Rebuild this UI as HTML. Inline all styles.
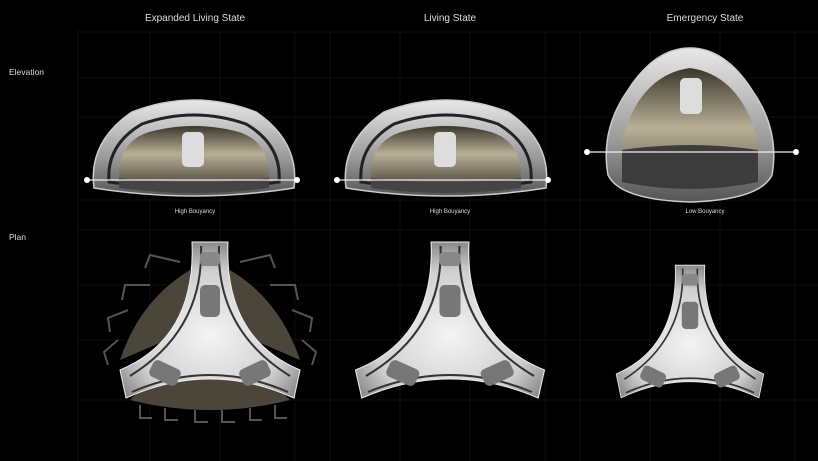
<!DOCTYPE html>
<html><head><meta charset="utf-8"><style>
html,body{margin:0;padding:0;background:#000;}
svg{display:block}
text{font-family:"Liberation Sans",sans-serif;fill:#ddd}
</style></head><body>
<svg width="818" height="461" viewBox="0 0 818 461" xmlns="http://www.w3.org/2000/svg">
<defs>
<linearGradient id="sh" x1="0" y1="0" x2="0" y2="1"><stop offset="0" stop-color="#e8e8e8"/><stop offset="0.6" stop-color="#9a9a9a"/><stop offset="1" stop-color="#555"/></linearGradient>
<linearGradient id="bg" x1="0" y1="0" x2="0" y2="1"><stop offset="0" stop-color="#3a362c"/><stop offset="0.5" stop-color="#b8b096"/><stop offset="1" stop-color="#5a5548"/></linearGradient>
<radialGradient id="tp" cx="0.5" cy="0.6" r="0.6"><stop offset="0" stop-color="#f4f4f4"/><stop offset="0.7" stop-color="#cfcfcf"/><stop offset="1" stop-color="#8a8a8a"/></radialGradient>
<g id="dome">
<path d="M-100,38 Q-106,-8 -62,-38 Q0,-62 62,-38 Q106,-8 100,38 Q0,54 -100,38 Z" fill="url(#sh)" stroke="#ccc" stroke-width="1.5"/>
<path d="M-85,32 Q-88,-5 -52,-26 Q0,-44 52,-26 Q88,-5 85,32 Q0,44 -85,32 Z" fill="none" stroke="#222" stroke-width="3"/>
<path d="M-75,28 Q-76,-8 -45,-18 Q0,-30 45,-18 Q76,-8 75,28 Q0,36 -75,28 Z" fill="url(#bg)"/>
<path d="M-75,28 Q0,36 75,28 L75,38 Q0,48 -75,38Z" fill="#444"/>
</g>
<g id="tri">
<path d="M-18,-88 L18,-88 Q14,8 90,40 L84,68 Q0,30 -84,68 L-90,40 Q-14,8 -18,-88 Z" fill="url(#tp)" stroke="#eee" stroke-width="1"/>
<path d="M-9,-84 Q-6,0 -80,46 M9,-84 Q6,0 80,46 M-78,62 Q0,28 78,62" fill="none" stroke="#333" stroke-width="2"/>
<rect x="-10" y="-45" width="20" height="32" rx="5" fill="#777"/>
<rect x="-10" y="-78" width="20" height="14" rx="4" fill="#888"/>
<rect x="-60" y="34" width="30" height="18" rx="5" fill="#777" transform="rotate(25 -45 43)"/>
<rect x="30" y="34" width="30" height="18" rx="5" fill="#777" transform="rotate(-25 45 43)"/>
</g>
</defs>
<g stroke="#0e0e0e" stroke-width="1">
<path d="M78,30V461M150,30V461M220,30V461M295,30V461M330,30V461M400,30V461M470,30V461M545,30V461M580,30V461M650,30V461M720,30V461M795,30V461"/>
<path d="M78,32H818M78,78H818M78,117H818M78,200H818M78,230H818M78,285H818M78,340H818M78,400H818"/>
</g>
<text x="195" y="21" font-size="10" text-anchor="middle">Expanded Living State</text>
<text x="450" y="21" font-size="10" text-anchor="middle">Living State</text>
<text x="705" y="21" font-size="10" text-anchor="middle">Emergency State</text>
<text x="9" y="75" font-size="8.5">Elevation</text>
<text x="9" y="240" font-size="8.5">Plan</text>
<text x="195" y="213" font-size="6" text-anchor="middle">High Bouyancy</text>
<text x="450" y="213" font-size="6" text-anchor="middle">High Bouyancy</text>
<text x="705" y="213" font-size="6" text-anchor="middle">Low Bouyancy</text>
<use href="#dome" transform="translate(194,150)"/>
<use href="#dome" transform="translate(446,150)"/>
<rect x="182" y="132" width="22" height="35" rx="5" fill="#ddd"/>
<rect x="434" y="132" width="22" height="35" rx="5" fill="#ddd"/>
<path d="M690,48 Q725,48 752,90 Q780,130 772,175 Q760,200 690,202 Q620,200 608,175 Q600,130 628,90 Q655,48 690,48 Z" fill="url(#sh)" stroke="#ccc" stroke-width="1.5"/>
<path d="M690,68 Q740,75 758,140 L758,180 Q690,195 622,180 L622,140 Q640,75 690,68 Z" fill="url(#bg)"/>
<path d="M622,150 Q690,140 758,150 L758,182 Q690,196 622,182 Z" fill="#3c3c3c"/>
<rect x="680" y="78" width="22" height="36" rx="5" fill="#ddd"/>
<g stroke="#eee" stroke-width="1.2"><line x1="87" y1="180" x2="297" y2="180"/><line x1="337" y1="180" x2="548" y2="180"/><line x1="587" y1="152" x2="796" y2="152"/></g>
<g fill="#fff"><circle cx="87" cy="180" r="3"/><circle cx="297" cy="180" r="3"/><circle cx="337" cy="180" r="3"/><circle cx="548" cy="180" r="3"/><circle cx="587" cy="152" r="3"/><circle cx="796" cy="152" r="3"/></g>
<g stroke="#555" stroke-width="2" fill="none">
<path d="M180,262 L150,255 L145,268 M240,262 L270,255 L275,268 M150,285 L125,285 L122,300 M270,285 L295,285 L298,300 M128,310 L108,318 L110,332 M292,310 L312,318 L310,332 M118,340 L104,352 L108,365 M302,340 L316,352 L312,365 M140,405 L140,418 L152,418 M165,408 L165,420 L178,420 M195,410 L195,422 L208,422 M222,410 L222,422 L235,422 M250,408 L250,420 L262,420 M275,405 L275,418 L287,418"/>
</g>
<path d="M120,360 Q140,300 190,270 L190,330 Z M300,360 Q280,300 230,270 L230,330 Z M130,400 Q210,420 290,400 L270,380 Q210,370 150,380 Z" fill="#5e5848" opacity="0.8"/>
<use href="#tri" transform="translate(210,330)"/>
<use href="#tri" transform="translate(450,330) scale(1.05,1)"/>
<use href="#tri" transform="translate(690,340) scale(0.82,0.85)"/>
</svg>
</body></html>
